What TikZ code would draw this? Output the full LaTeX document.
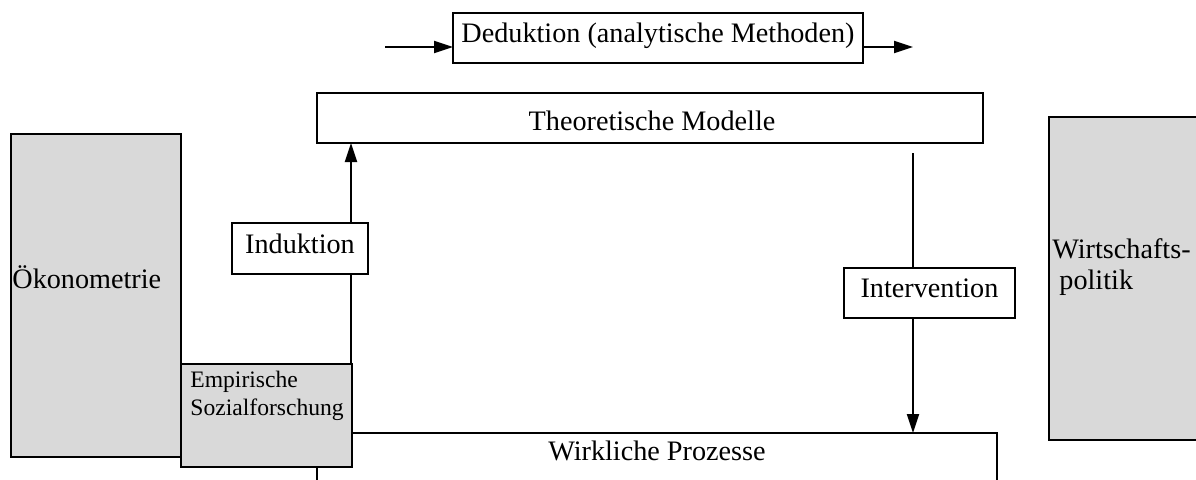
\documentclass[tikz,border=0pt]{standalone}
\usepackage{fontspec}
\setmainfont{Liberation Serif}
\usetikzlibrary{arrows.meta}
\definecolor{panelgray}{HTML}{D9D9D9}
\begin{document}
\begin{tikzpicture}[x=0.5pt,y=-0.5pt,
  frame/.style={draw=black, line width=1pt, inner sep=0pt, outer sep=0pt, rectangle},
  shaded/.style={frame, fill=panelgray},
  plain/.style={frame, fill=white},
  txt/.style={inner sep=0pt, font=\fontsize{14.1pt}{15.5pt}\selectfont},
  smalltxt/.style={inner sep=0pt, font=\fontsize{11.8pt}{14pt}\selectfont},
  arr/.style={line width=1pt, -{Triangle[length=9.5pt,width=6pt]}},
]
\useasboundingbox (0,0) rectangle (1196,479);
\clip (0,0) rectangle (1196,479);

% boxes
\node[plain, minimum width=205pt, minimum height=25pt] (ded) at (658,38) {};
\node[plain, minimum width=333pt, minimum height=25pt] (theo) at (650,118) {};
\node[shaded, minimum width=85.25pt, minimum height=161.5pt] (oeko) at (95.75,295.5) {};
\node[shaded, minimum width=105.5pt, minimum height=161.5pt] (wp) at (1154.5,278.5) {};
\node[plain, minimum width=340pt, minimum height=50pt] (wirk) at (657,483) {};
\node[shaded, minimum width=85.5pt, minimum height=51.5pt] (emp) at (266.5,415.5) {};

% connectors
\coordinate (din) at (385,47);
\coordinate (dout) at (913,47);
\draw[arr] (din) -- (din -| ded.west);
\draw[arr] (ded.east |- dout) -- (dout);

\coordinate (indfoot) at ([xshift=-0.5pt]emp.north east);
\draw[arr] (indfoot) -- (indfoot |- theo.south);

\coordinate (ivs) at (913,153);
\draw[arr] (ivs) -- (ivs |- wirk.north);

% boxes sitting on the connectors
\node[plain, minimum width=68pt, minimum height=25.5pt] (ind) at (300,248.5) {};
\node[plain, minimum width=85.5pt, minimum height=25pt] (int) at (929.5,293) {};

% texts
\node[txt, anchor=base] (dedt) at (658,42) {Deduktion (analytische Methoden)};
\node[txt, anchor=base] (theot) at (652,130) {Theoretische Modelle};
\node[txt, anchor=base west] (oekot) at (12,288) {Ökonometrie};
\node[txt, anchor=base] (indt) at (300,253) {Induktion};
\node[txt, anchor=base] (intt) at (929.5,297) {Intervention};
\node[txt, anchor=north west, align=left] (wpt) at (1052,238) {Wirtschafts-\\\hspace*{0.25em}politik};
\node[smalltxt, anchor=north west, align=left] (empt) at (190,371) {Empirische\\Sozialforschung};
\node[txt, anchor=base] (wirkt) at (657,460) {Wirkliche Prozesse};
\end{tikzpicture}
\end{document}
